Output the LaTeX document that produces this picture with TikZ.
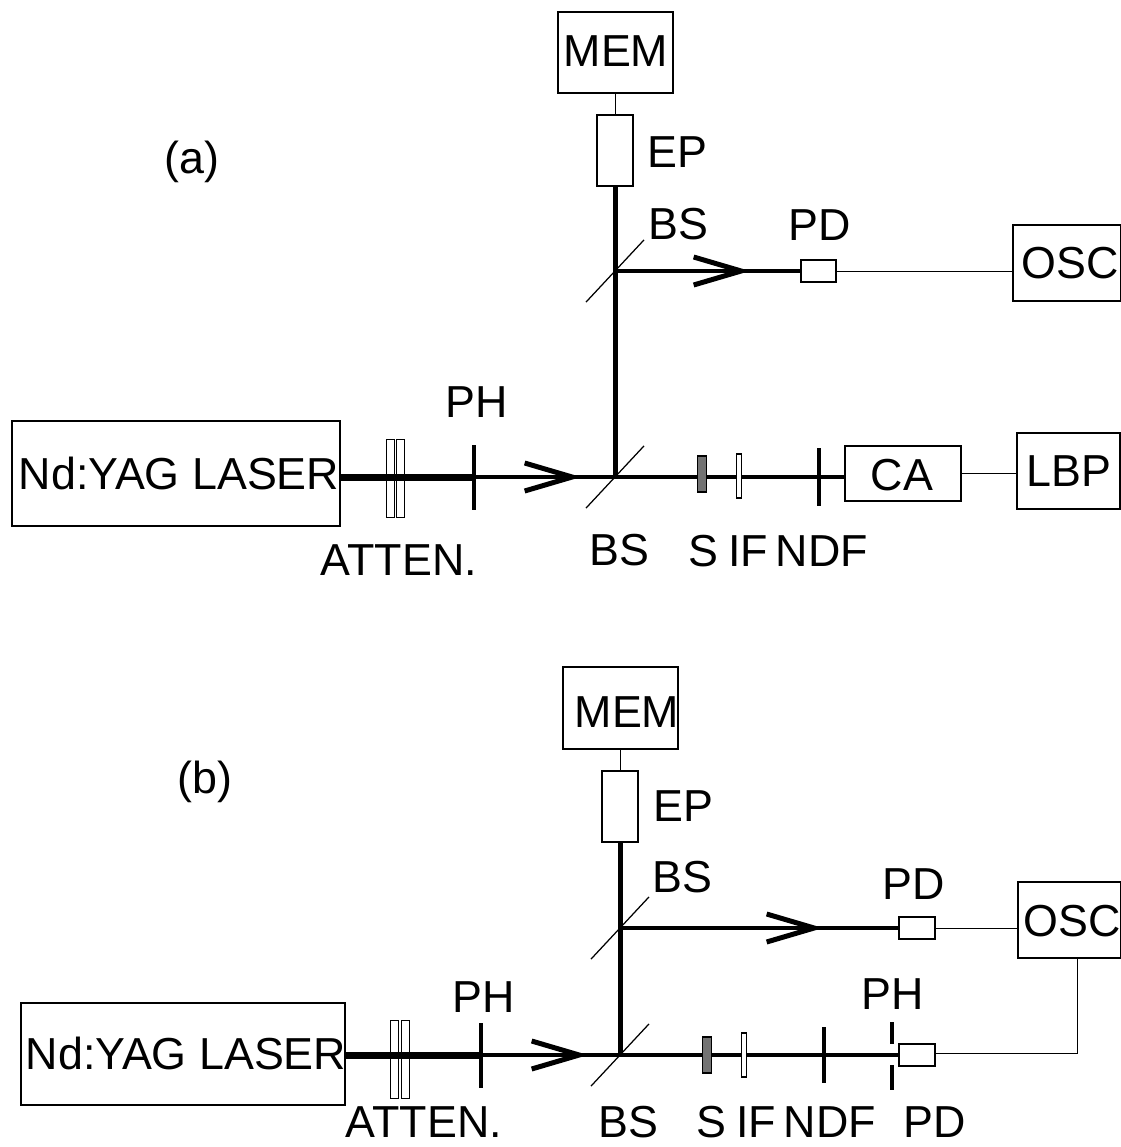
\documentclass[tikz,border=0pt]{standalone}
\usepackage{fontspec}
\setmainfont{Liberation Sans}
\usetikzlibrary{arrows.meta}
\tikzset{
  lbl/.style={font=\fontsize{25.5}{25.5}\selectfont,inner sep=0pt},
  box/.style 2 args={draw,line width=0.3mm,fill=white,inner sep=0pt,minimum width=#1*0.2mm,minimum height=#2*0.2mm},
  plate/.style={box={8}{78},line width=0.2mm},
  stopper/.style={fill=black,inner sep=0pt,minimum width=0.9mm,minimum height=#1*0.2mm},
  mirror/.style={fill=black,inner sep=0pt,minimum width=17mm,minimum height=0.25mm,rotate=47},
  wire/.style={line width=0.2mm},
  beam/.style={line width=#1*0.2mm},
  barb/.style={-{Straight Barb[length=9.5mm,width=5.6mm,line width=1mm]}}
}
\begin{document}
\begin{tikzpicture}[x=0.2mm,y=-0.2mm]
  \clip (0,0) rectangle (1121,1147);
  % panel (a)
  \node[lbl] at (192,162) (taga) {(a)};
  \node[box={115}{81}] at (615.5,52.5) (mema) {};
  \node[lbl] at (616,51) (memlabela) {MEM};
  \node[box={36}{71}] at (615,150.5) (epa) {};
  \node[lbl] at (677,152) (eplabela) {EP};
  \node[mirror] at (615,271) (bsa) {};
  \node[mirror] at (615,477) (bsb) {};
  \node[lbl] at (678,224) (bslabela) {BS};
  \node[box={35}{22}] at (818.5,271) (pda) {};
  \node[lbl] at (820,225) (pdlabela) {PD};
  \node[box={108}{76}] at (1067,263) (osca) {};
  \node[lbl] at (1070,263) (osclabela) {OSC};
  \node[box={328}{105}] at (176,473.5) (lasera) {};
  \node[lbl] at (179,473) (laserlabela) {Nd:YAG LASER};
  \node[plate] at (390,478) (atena) {};
  \node[plate] at (400.5,478) (atenb) {};
  \node[stopper=65] at (474,477) (pha) {};
  \node[lbl] at (477,402) (phlabela) {PH};
  \node[lbl] at (399,560) (atenlabela) {ATTEN.};
  \node[lbl] at (619,550) (bslabelb) {BS};
  \node[stopper=58] at (819,477) (ndfa) {};
  \node[box={116}{55}] at (903,473.5) (caa) {};
  \node[lbl] at (902,475) (calabela) {CA};
  \node[box={103}{76}] at (1068.5,471) (lbpa) {};
  \node[lbl] at (1069,471) (lbplabela) {LBP};
  \coordinate (arrowa) at (581,477);
  \coordinate (arrowb) at (750,271);
  \draw[wire] (mema) -- (mema |- epa.north);
  \draw[beam=5] (epa) -- (bsb.center);
  \draw[beam=4] (bsa.center) -- (pda);
  \draw[beam=4,barb] (bsa.center) -- (arrowb);
  \draw[wire] (pda) -- (pda -| osca.west);
  \draw[beam=7] (lasera.east |- pha) -- (pha.center);
  \draw[beam=4] (pha.center) -- (bsb.center);
  \draw[beam=4,barb] (pha.center) -- (arrowa);
  \draw[beam=4] (bsb.center) -- (caa.west |- bsb);
  \draw[wire] (caa.east) -- (caa.east -| lbpa.west);
  \node[box={9}{36},fill=black!55] at (702,474) (sa) {};
  \node[box={5}{44}] at (739,476) (ifa) {};
  \node[lbl] at (703,551) (slabela) {S};
  \node[lbl] at (748,551) (iflabela) {IF};
  \node[lbl] at (822,551) (ndflabela) {NDF};
  % panel (b)
  \node[lbl] at (205,782) (tagb) {(b)};
  \node[box={115}{82}] at (620.5,708) (memb) {};
  \node[lbl] at (627,712) (memlabelb) {MEM};
  \node[box={36}{71}] at (620,806.5) (epb) {};
  \node[lbl] at (683,806) (eplabelb) {EP};
  \node[mirror] at (620,928) (bsc) {};
  \node[mirror] at (620,1055) (bsd) {};
  \node[lbl] at (682,877) (bslabelc) {BS};
  \node[box={36}{22}] at (917,928) (pdb) {};
  \node[lbl] at (914,884) (pdlabelb) {PD};
  \node[box={103}{76}] at (1069.5,920) (oscb) {};
  \node[lbl] at (1072,921) (osclabelb) {OSC};
  \node[box={324}{102}] at (183,1054) (laserb) {};
  \node[lbl] at (186,1053) (laserlabelb) {Nd:YAG LASER};
  \node[plate] at (394.5,1059) (atenc) {};
  \node[plate] at (405.5,1059) (atend) {};
  \node[stopper=65] at (481,1055) (phb) {};
  \node[lbl] at (484,997) (phlabelb) {PH};
  \node[lbl] at (424,1122) (atenlabelb) {ATTEN.};
  \node[lbl] at (628,1122) (bslabeld) {BS};
  \node[stopper=56] at (824,1055) (ndfb) {};
  \node[stopper=22] at (892,1033) (phc) {};
  \node[stopper=25] at (892,1077) (phd) {};
  \node[lbl] at (893,994) (phlabelc) {PH};
  \node[box={36}{22}] at (917,1055) (pdc) {};
  \coordinate (arrowc) at (588,1055);
  \coordinate (arrowd) at (823,928);
  \coordinate (bendb) at (1077,1053);
  \draw[wire] (memb) -- (memb |- epb.north);
  \draw[beam=5] (epb) -- (bsd.center);
  \draw[beam=4] (bsc.center) -- (pdb);
  \draw[beam=4,barb] (bsc.center) -- (arrowd);
  \draw[wire] (pdb.east) -- (pdb.east -| oscb.west);
  \draw[beam=7] (laserb.east |- phb) -- (phb.center);
  \draw[beam=4] (phb.center) -- (bsd.center);
  \draw[beam=4,barb] (phb.center) -- (arrowc);
  \draw[beam=4] (bsd.center) -- (pdc);
  \draw[wire] (oscb.south -| bendb) -- (bendb) -- (pdc.east |- bendb);
  \node[box={9}{36},fill=black!55] at (707,1055) (sb) {};
  \node[box={5}{44}] at (744,1055) (ifb) {};
  \node[lbl] at (711,1122) (slabelb) {S};
  \node[lbl] at (756,1122) (iflabelb) {IF};
  \node[lbl] at (830,1122) (ndflabelb) {NDF};
  \node[lbl] at (935,1122) (pdlabelc) {PD};
\end{tikzpicture}
\end{document}
